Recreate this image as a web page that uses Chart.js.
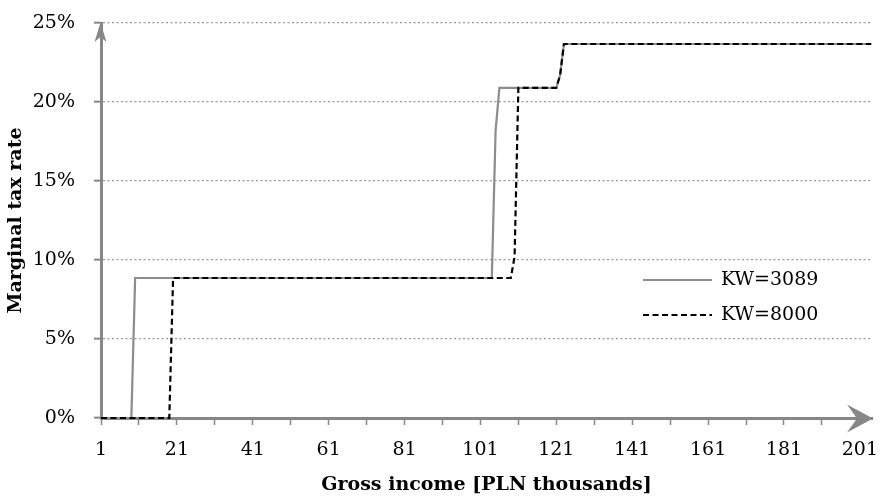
<!DOCTYPE html>
<html>
<head>
<meta charset="utf-8">
<script src="https://cdn.jsdelivr.net/npm/chart.js@4.4.1/dist/chart.umd.min.js"></script>
<style>
  html, body { margin: 0; padding: 0; background: #fff; }
</style>
</head>
<body>
<canvas id="taxChart" width="882" height="496"></canvas>
<script>
// breakpoints (income in PLN thousands, rate in %)
const kw3089Income = [1, 9, 10, 104, 105, 106, 121, 122, 123, 204];
const kw3089Rate   = [0, 0, 8.86, 8.86, 18.2, 20.9, 20.9, 21.7, 23.67, 23.67];

const kw8000Income = [1, 19, 20, 109, 110, 111, 121, 122, 123, 204];
const kw8000Rate   = [0, 0, 8.86, 8.86, 10.2, 20.9, 20.9, 21.7, 23.67, 23.67];

const seriesLabels = ['KW=3089', 'KW=8000'];

const incomeTicks = [1, 11, 21, 31, 41, 51, 61, 71, 81, 91, 101, 111, 121, 131, 141, 151, 161, 171, 181, 191, 201];
const incomeLabels = [1, 21, 41, 61, 81, 101, 121, 141, 161, 181, 201];
const rateTicks = [0, 5, 10, 15, 20, 25];

const xTitle = 'Gross income [PLN thousands]';
const yTitle = 'Marginal tax rate';

const axisGray = '#878787';
const serif = 'DejaVu Serif';

function toPoints(xs, ys) {
  return xs.map((x, i) => ({ x: x, y: ys[i] }));
}

const arrowsAndLegend = {
  id: 'arrowsAndLegend',
  afterDraw(chart) {
    const c = chart.ctx;
    const area = chart.chartArea;
    const ax = area.left - 0.5;
    const ay = area.bottom + 0.5;

    c.save();
    c.fillStyle = axisGray;
    // y axis arrow
    c.beginPath();
    c.moveTo(ax, area.top - 0.5);
    c.lineTo(ax - 6, area.top + 19);
    c.lineTo(ax, area.top + 14);
    c.lineTo(ax + 6, area.top + 19);
    c.closePath();
    c.fill();
    // x axis arrow
    c.beginPath();
    c.moveTo(area.right + 1, ay);
    c.lineTo(area.right - 25, ay - 14);
    c.lineTo(area.right - 15, ay);
    c.lineTo(area.right - 25, ay + 14);
    c.closePath();
    c.fill();

    // legend inside the plot
    c.font = '19px "' + serif + '"';
    c.textBaseline = 'middle';
    c.fillStyle = '#000';
    chart.data.datasets.forEach((ds, i) => {
      const ly = area.top + 257 + i * 35;
      c.strokeStyle = ds.borderColor;
      c.lineWidth = ds.borderWidth;
      c.setLineDash(ds.borderDash || []);
      c.beginPath();
      c.moveTo(area.left + 542, ly);
      c.lineTo(area.left + 611, ly);
      c.stroke();
      c.fillText(ds.label, area.left + 620, ly);
    });
    c.restore();
  }
};

const ctx = document.getElementById('taxChart').getContext('2d');

new Chart(ctx, {
  type: 'line',
  data: {
    datasets: [
      {
        label: seriesLabels[0],
        data: toPoints(kw3089Income, kw3089Rate),
        borderColor: '#8c8c8c',
        borderWidth: 2.2,
        pointRadius: 0,
        tension: 0,
        clip: 6,
        order: 1
      },
      {
        label: seriesLabels[1],
        data: toPoints(kw8000Income, kw8000Rate),
        borderColor: '#000000',
        borderWidth: 2.2,
        borderDash: [6, 3.5],
        pointRadius: 0,
        tension: 0,
        clip: 6,
        order: 0
      }
    ]
  },
  options: {
    responsive: false,
    animation: false,
    layout: { padding: { top: 23, right: 10, left: 0, bottom: 0 } },
    plugins: {
      legend: { display: false },
      tooltip: { enabled: false }
    },
    scales: {
      x: {
        type: 'linear',
        min: 1,
        max: 204.2,
        afterBuildTicks: s => { s.ticks = incomeTicks.map(v => ({ value: v })); },
        afterFit: s => {
          s.height = 78;
          s.paddingLeft = 0;
          s.paddingRight = 0;
        },
        ticks: {
          autoSkip: false,
          maxRotation: 0,
          padding: 14,
          color: '#000',
          font: { family: serif, size: 19 },
          callback: v => incomeLabels.includes(v) ? String(v) : ''
        },
        grid: { drawOnChartArea: false, tickLength: 7, tickColor: axisGray, tickWidth: 1.5 },
        border: { color: axisGray, width: 3 },
        title: {
          display: true,
          text: xTitle,
          color: '#000',
          padding: { top: 0, bottom: 0 },
          font: { family: serif, size: 19, weight: 'bold' }
        }
      },
      y: {
        min: 0,
        max: 25,
        afterBuildTicks: s => { s.ticks = rateTicks.map(v => ({ value: v })); },
        afterFit: s => {
          s.width = 101;
          s.paddingTop = 0;
          s.paddingBottom = 0;
        },
        ticks: {
          padding: 19,
          color: '#000',
          font: { family: serif, size: 19 },
          callback: v => v + '%'
        },
        grid: { color: '#9a9a9a', lineWidth: 1.3, tickLength: 7, tickColor: axisGray, tickWidth: 2 },
        border: { color: axisGray, width: 3, dash: [2, 2.5] },
        title: {
          display: true,
          text: yTitle,
          color: '#000',
          padding: { top: 5, bottom: 0 },
          font: { family: serif, size: 19, weight: 'bold' }
        }
      }
    }
  },
  plugins: [arrowsAndLegend]
});
</script>
</body>
</html>
